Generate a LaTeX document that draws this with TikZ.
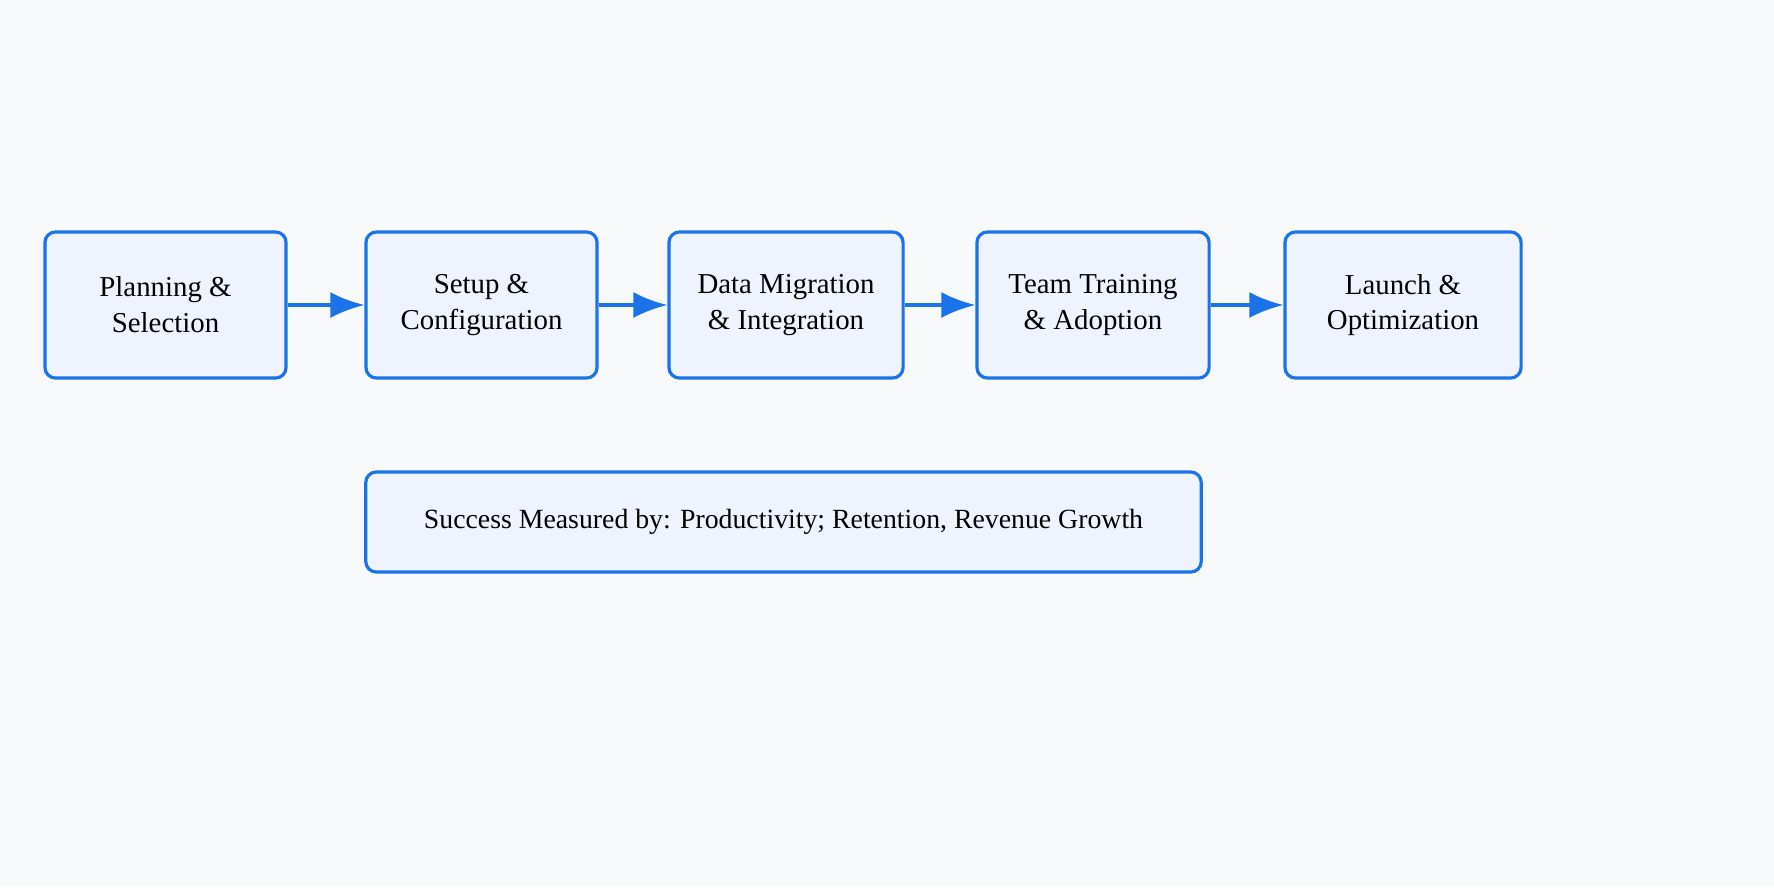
\documentclass[tikz,border=0pt]{standalone}
\usepackage{fontspec}
\setmainfont{Liberation Serif}
\usetikzlibrary{arrows.meta}
\definecolor{stageblue}{HTML}{1A73E8}
\definecolor{stagefill}{HTML}{EEF3FE}
\definecolor{pagebg}{HTML}{F8F9FA}

\begin{document}
\begin{tikzpicture}[x=0.01cm,y=-0.01cm]
	\fill[pagebg] (0,0) rectangle (1774,887);
	\useasboundingbox (0,0) rectangle (1774,887);
	\tikzset{stage/.style={draw=stageblue, fill=stagefill, line width=0.9pt, rounded corners=3pt,
		minimum height=1.46cm, align=center, font=\fontsize{8.2}{10.2}\selectfont}}
	\node (s1) [stage, minimum width=2.41cm] at (165.5,305) {Planning \&\\Selection};
	\node (s2) [stage, minimum width=2.31cm] at (481.5,305) {Setup \&\\Configuration};
	\node (s3) [stage, minimum width=2.34cm] at (786,305) {Data Migration\\\& Integration};
	\node (s4) [stage, minimum width=2.32cm] at (1093,305) {Team Training\\\& Adoption};
	\node (s5) [stage, minimum width=2.36cm] at (1403,305) {Launch \&\\Optimization};
	\node (kpi) [stage, minimum width=8.35cm, minimum height=1.0cm, font=\fontsize{7.9}{9}\selectfont] at (783.5,522) {Success Measured by: Productivity; Retention, Revenue Growth};
	\draw[-{Latex[length=3.4mm,width=2.6mm]}, stageblue, line width=0.9pt] (s1) -> (s2);
	\draw[-{Latex[length=3.4mm,width=2.6mm]}, stageblue, line width=0.9pt] (s2) -> (s3);
	\draw[-{Latex[length=3.4mm,width=2.6mm]}, stageblue, line width=0.9pt] (s3) -> (s4);
	\draw[-{Latex[length=3.4mm,width=2.6mm]}, stageblue, line width=0.9pt] (s4) -> (s5);
\end{tikzpicture}
\end{document}
